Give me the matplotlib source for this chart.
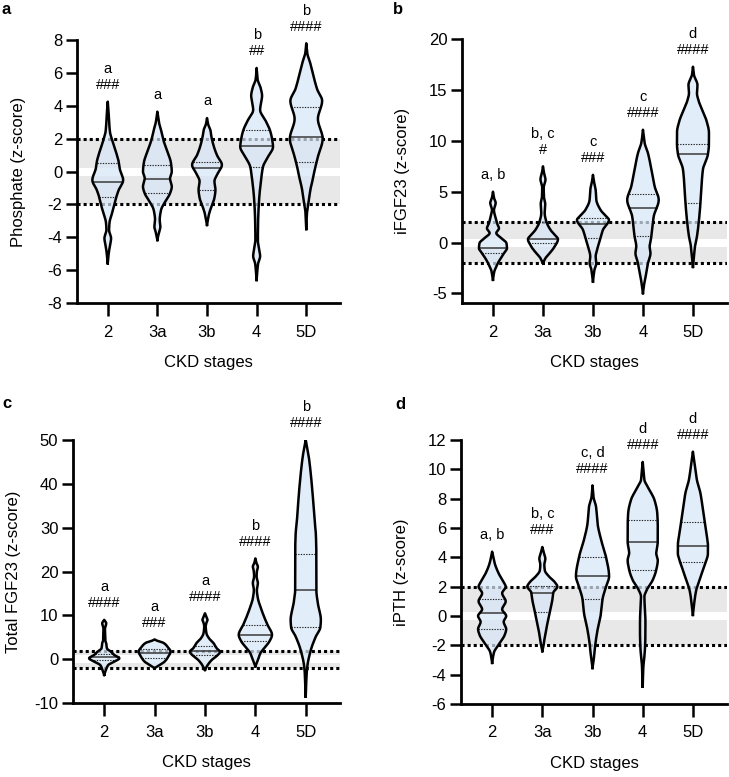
import numpy as np
import matplotlib
matplotlib.use('Agg')
import matplotlib.pyplot as plt

plt.rcParams['font.family'] = ['Liberation Sans', 'DejaVu Sans']
plt.rcParams['axes.unicode_minus'] = False

stages = ['2', '3a', '3b', '4', '5D']

# violin outlines: value (z-score) and half width (category units)
phos_y = [[4.25, 3.7, 2.9, 2.4, 1.92, 1.1, 0.6, 0.19, -0.52, -1.13, -1.53, -2.34, -3.15, -3.56, -4.06, -4.57, -4.97, -5.58],
          [3.64, 2.96, 2.52, 1.92, 1.31, 0.5, 0.0, -0.42, -0.92, -1.33, -1.84, -2.34, -2.95, -3.36, -3.76, -4.17],
          [3.25, 2.9, 2.5, 2.1, 1.5, 1.0, 0.4, -0.1, -0.6, -1.1, -1.6, -2.2, -2.6, -3.25],
          [6.3, 5.6, 5.1, 4.6, 4.2, 3.75, 3.1, 2.5, 2.0, 1.5, 0.9, 0.3, -0.5, -1.7, -3.0, -4.2, -4.7, -5.15, -5.6, -6.0, -6.6],
          [7.8, 7.2, 6.6, 6.0, 5.0, 4.3, 3.2, 2.0, 0.9, 0.1, -0.5, -1.0, -2.0, -2.5, -3.5]]
phos_w = [[0, 0.015, 0.03, 0.045, 0.087, 0.175, 0.22, 0.24, 0.31, 0.22, 0.175, 0.107, 0.034, 0.027, 0.067, 0.04, 0.02, 0],
          [0, 0.034, 0.074, 0.12, 0.19, 0.275, 0.29, 0.255, 0.29, 0.255, 0.155, 0.074, 0.047, 0.06, 0.027, 0],
          [0, 0.02, 0.07, 0.09, 0.14, 0.2, 0.3, 0.22, 0.15, 0.17, 0.15, 0.08, 0.04, 0],
          [0, 0.02, 0.08, 0.11, 0.09, 0.07, 0.18, 0.27, 0.31, 0.33, 0.23, 0.13, 0.09, 0.05, 0.03, 0.025, 0.05, 0.07, 0.03, 0.015, 0],
          [0, 0.02, 0.08, 0.13, 0.22, 0.32, 0.235, 0.33, 0.235, 0.17, 0.13, 0.09, 0.04, 0.015, 0]]
phos_med = [-0.62, -0.46, 0.2, 1.55, 2.1]
phos_q1 = [-1.53, -1.3, -1.15, 0.3, 0.55]
phos_q3 = [0.5, 0.4, 0.57, 2.5, 3.95]
phos_letters = ['a', 'a', 'a', 'b', 'b']
phos_hashes = ['###', '', '', '##', '####']

ifgf_y = [[5.0, 4.4, 3.9, 3.2, 2.4, 1.9, 1.4, 0.93, 0.43, -0.07, -0.55, -1.05, -1.7, -2.36, -2.85, -3.67],
          [7.5, 7.0, 6.2, 5.4, 4.5, 3.8, 2.9, 2.07, 1.25, 0.76, 0.33, -0.39, -1.05, -1.54, -2.03],
          [6.66, 6.0, 5.19, 4.2, 3.22, 2.6, 2.23, 1.25, 0.43, -0.39, -1.38, -2.03, -2.69, -3.84],
          [11.1, 9.78, 8.8, 7.16, 5.5, 4.2, 2.56, 1.57, 0.66, -0.39, -1.05, -2.03, -3.0, -4.0, -4.98],
          [17.3, 16.5, 15.5, 14.7, 14.0, 13.0, 12.0, 10.8, 9.7, 8.7, 7.2, 5.5, 3.9, 2.2, 0.6, -0.4, -1.4, -2.4]]
ifgf_w = [[0, 0.02, 0.054, 0.02, 0.054, 0.08, 0.12, 0.067, 0.17, 0.27, 0.28, 0.22, 0.134, 0.067, 0.027, 0],
          [0, 0.015, 0.05, 0.015, 0.02, 0.045, 0.034, 0.067, 0.15, 0.235, 0.3, 0.235, 0.134, 0.05, 0],
          [0, 0.02, 0.054, 0.067, 0.15, 0.26, 0.32, 0.2, 0.15, 0.1, 0.054, 0.067, 0.03, 0],
          [0, 0.034, 0.1, 0.17, 0.235, 0.315, 0.215, 0.19, 0.17, 0.134, 0.15, 0.1, 0.067, 0.027, 0],
          [0, 0.02, 0.09, 0.08, 0.11, 0.19, 0.27, 0.32, 0.32, 0.3, 0.2, 0.17, 0.15, 0.12, 0.08, 0.04, 0.02, 0]]
ifgf_med = [-0.55, 0.33, 1.84, 3.38, 8.7]
ifgf_q1 = [-1.05, -0.07, 0.43, 0.66, 3.88]
ifgf_q3 = [None, 2.0, 2.4, 4.79, 9.71]
ifgf_letters = ['a, b', 'b, c', 'c', 'c', 'd']
ifgf_hashes = ['', '#', '###', '####', '####']

tfgf_y = [[9.0, 8.2, 7.0, 5.0, 4.4, 3.7, 2.5, 1.75, 1.0, 0.25, -0.52, -1.28, -2.4, -3.55],
          [4.55, 4.3, 4.0, 3.8, 2.9, 1.75, 0.6, -0.5, -1.28, -2.0],
          [10.5, 9.6, 9.0, 8.4, 7.5, 5.9, 4.8, 3.7, 2.5, 1.75, 1.0, -0.14, -1.28, -2.4],
          [23.0, 22.0, 21.1, 20.0, 18.9, 17.4, 15.8, 13.9, 12.0, 9.8, 7.9, 5.6, 4.1, 2.9, 1.4, -0.15, -1.6],
          [50.0, 46.2, 38.6, 31.0, 28.7, 24.2, 15.9, 12.8, 9.0, 7.3, 5.2, 2.1, -1.7, -3.9, -8.5]]
tfgf_w = [[0, 0.04, 0.015, 0.02, 0.02, 0.04, 0.054, 0.134, 0.2, 0.3, 0.2, 0.08, 0.034, 0],
          [0, 0.04, 0.12, 0.17, 0.255, 0.315, 0.27, 0.2, 0.1, 0],
          [0, 0.03, 0.05, 0.03, 0.015, 0.03, 0.08, 0.17, 0.235, 0.3, 0.255, 0.134, 0.054, 0],
          [0, 0.02, 0.05, 0.03, 0.025, 0.05, 0.03, 0.05, 0.1, 0.17, 0.24, 0.33, 0.28, 0.2, 0.1, 0.05, 0],
          [0, 0.06, 0.13, 0.18, 0.2, 0.21, 0.21, 0.24, 0.3, 0.29, 0.2, 0.1, 0.03, 0.015, 0]]
tfgf_med = [0.47, 1.53, 1.8, 5.6, 15.9]
tfgf_q1 = [-0.14, 0.25, 0.9, 4.1, 7.3]
tfgf_q3 = [1.15, 2.3, 3.1, 7.9, 24.0]
tfgf_letters = ['a', 'a', 'a', 'b', 'b']
tfgf_hashes = ['####', '###', '####', '####', '####']

ipth_y = [[4.38, 3.6, 2.9, 2.3, 2.0, 1.55, 1.0, 0.45, 0.0, -0.4, -0.9, -1.3, -1.75, -2.1, -2.45, -3.2],
          [4.7, 4.3, 3.9, 3.5, 3.1, 2.7, 2.3, 2.0, 1.6, 1.1, 0.6, 0.0, -0.7, -1.4, -2.0, -2.4],
          [8.9, 8.1, 7.45, 6.3, 5.2, 4.0, 2.7, 2.0, 1.15, 0.2, -0.95, -2.1, -2.8, -3.55],
          [10.5, 9.8, 9.27, 8.8, 7.9, 7.0, 6.1, 5.07, 4.27, 3.8, 3.14, 2.45, 1.77, 1.32, 0.63, -0.27, -1.18, -2.1, -3.0, -3.46, -4.82],
          [11.2, 10.2, 9.27, 8.37, 7.23, 6.39, 5.4, 4.8, 4.27, 3.66, 3.14, 2.45, 1.77, 1.09, 0.07]]
ipth_w = [[0, 0.05, 0.13, 0.23, 0.27, 0.2, 0.27, 0.2, 0.28, 0.23, 0.28, 0.25, 0.17, 0.1, 0.04, 0],
          [0, 0.03, 0.06, 0.04, 0.05, 0.13, 0.25, 0.3, 0.22, 0.2, 0.17, 0.13, 0.09, 0.05, 0.025, 0],
          [0, 0.02, 0.07, 0.1, 0.17, 0.27, 0.33, 0.27, 0.2, 0.17, 0.1, 0.05, 0.03, 0],
          [0, 0.02, 0.034, 0.1, 0.235, 0.29, 0.3, 0.3, 0.27, 0.3, 0.27, 0.2, 0.08, 0.034, 0.04, 0.054, 0.054, 0.047, 0.027, 0.013, 0],
          [0, 0.04, 0.08, 0.15, 0.2, 0.235, 0.28, 0.3, 0.3, 0.255, 0.2, 0.134, 0.067, 0.034, 0]]
ipth_med = [0.2, 1.55, 2.7, 5.07, 4.8]
ipth_q1 = [-0.9, 0.3, 1.15, 3.14, 3.66]
ipth_q3 = [1.15, 2.05, 4.0, 6.55, 6.39]
ipth_letters = ['a, b', 'b, c', 'c, d', 'd', 'd']
ipth_hashes = ['', '###', '####', '####', '####']

FILL = '#d6e6f7'


def pchip(xk, yk, xn):
    # monotone cubic through the read-off outline points
    h = np.diff(xk)
    d = np.diff(yk) / h
    m = np.zeros_like(yk)
    m[0], m[-1] = d[0], d[-1]
    for k in range(1, len(xk) - 1):
        if d[k - 1] * d[k] > 0:
            w1 = 2 * h[k] + h[k - 1]
            w2 = h[k] + 2 * h[k - 1]
            m[k] = (w1 + w2) / (w1 / d[k - 1] + w2 / d[k])
    i = np.clip(np.searchsorted(xk, xn) - 1, 0, len(xk) - 2)
    t = (xn - xk[i]) / h[i]
    h00 = 2 * t**3 - 3 * t**2 + 1
    h10 = t**3 - 2 * t**2 + t
    h01 = -2 * t**3 + 3 * t**2
    h11 = t**3 - t**2
    return h00 * yk[i] + h10 * h[i] * m[i] + h01 * yk[i + 1] + h11 * h[i] * m[i + 1]


def draw_violin(ax, pos, ys, ws, med, q1, q3):
    yk = np.array(ys, float)[::-1]
    wk = np.array(ws, float)[::-1]
    yy = np.linspace(yk[0], yk[-1], 500)
    hw = np.clip(pchip(yk, wk, yy), 0, None)
    ax.fill_betweenx(yy, pos - hw, pos + hw, facecolor=FILL, alpha=0.72, lw=0, zorder=3)
    ax.plot(np.r_[pos - hw, (pos + hw)[::-1], pos - hw[0]], np.r_[yy, yy[::-1], yy[0]],
            color='k', lw=1.8, zorder=5, solid_joinstyle='round')
    w = np.interp(med, yy, hw)
    ax.plot([pos - w, pos + w], [med, med], color='#3a3a3a', lw=1.1, zorder=4)
    for q in (q1, q3):
        if q is None:
            continue
        w = np.interp(q, yy, hw)
        ax.plot([pos - w, pos + w], [q, q], color='#222222', lw=0.8, ls=(0, (1.2, 1.2)), zorder=4)
    return yk[-1]


def draw_panel(ax, ys, ws, med, q1, q3, letters, hashes, ylim, yticks, ylabel, tag):
    ax.set_xlim(-0.62, 4.68)
    ax.set_ylim(*ylim)
    ax.axhspan(-2, 2, color='#e8e8e8', lw=0, zorder=0)
    ax.axhline(0, color='white', lw=5.8, zorder=1)
    for r in (-2, 2):
        ax.axhline(r, color='k', lw=2.2, ls=(0, (1, 1)), zorder=2)
    for i in range(len(stages)):
        top = draw_violin(ax, i, ys[i], ws[i], med[i], q1[i], q3[i])
        off = 12
        if hashes[i]:
            ax.annotate(hashes[i], (i, top), xytext=(0, off), textcoords='offset points',
                        ha='center', va='center', fontsize=10.5, annotation_clip=False)
            off += 11.5
        ax.annotate(letters[i], (i, top), xytext=(0, off), textcoords='offset points',
                    ha='center', va='center', fontsize=10.5, annotation_clip=False)
    ax.set_xticks(range(len(stages)))
    ax.set_xticklabels(stages)
    ax.set_yticks(yticks)
    for s in ('top', 'right'):
        ax.spines[s].set_visible(False)
    for s in ('left', 'bottom'):
        ax.spines[s].set_linewidth(2.0)
    ax.tick_params(axis='x', length=9.5, width=1.8, pad=6, labelsize=12)
    ax.tick_params(axis='y', length=8, width=1.8, pad=2.5, labelsize=12)
    ax.set_ylabel(ylabel, fontsize=12)
    ax.set_xlabel('CKD stages', fontsize=12)
    ax.yaxis.set_label_coords(-0.223, 0.5)
    ax.xaxis.set_label_coords(0.5, -0.225)
    ax.xaxis.label.set_va('center')
    ax.yaxis.label.set_va('center')


fig = plt.figure(figsize=(7.29, 7.77), dpi=100)
ax_a = fig.add_axes([0.1056, 0.6100, 0.3608, 0.3385])
ax_b = fig.add_axes([0.6337, 0.6094, 0.3635, 0.3400])
ax_c = fig.add_axes([0.1001, 0.0949, 0.3663, 0.3389])
ax_d = fig.add_axes([0.6324, 0.0940, 0.3649, 0.3398])

draw_panel(ax_a, phos_y, phos_w, phos_med, phos_q1, phos_q3, phos_letters, phos_hashes,
           (-8, 8), range(-8, 9, 2), 'Phosphate (z-score)', 'a')
draw_panel(ax_b, ifgf_y, ifgf_w, ifgf_med, ifgf_q1, ifgf_q3, ifgf_letters, ifgf_hashes,
           (-6, 20), range(-5, 21, 5), 'iFGF23 (z-score)', 'b')
draw_panel(ax_c, tfgf_y, tfgf_w, tfgf_med, tfgf_q1, tfgf_q3, tfgf_letters, tfgf_hashes,
           (-10, 50), range(-10, 51, 10), 'Total FGF23 (z-score)', 'c')
draw_panel(ax_d, ipth_y, ipth_w, ipth_med, ipth_q1, ipth_q3, ipth_letters, ipth_hashes,
           (-6, 12), range(-6, 13, 2), 'iPTH (z-score)', 'd')

for x, y, t in [(2, 9, 'a'), (393, 10, 'b'), (2, 404, 'c'), (395, 405, 'd')]:
    fig.text(x / 729, 1 - y / 777, t, fontsize=12, fontweight='bold', ha='left', va='center')

fig.savefig('out.png', dpi=100)
